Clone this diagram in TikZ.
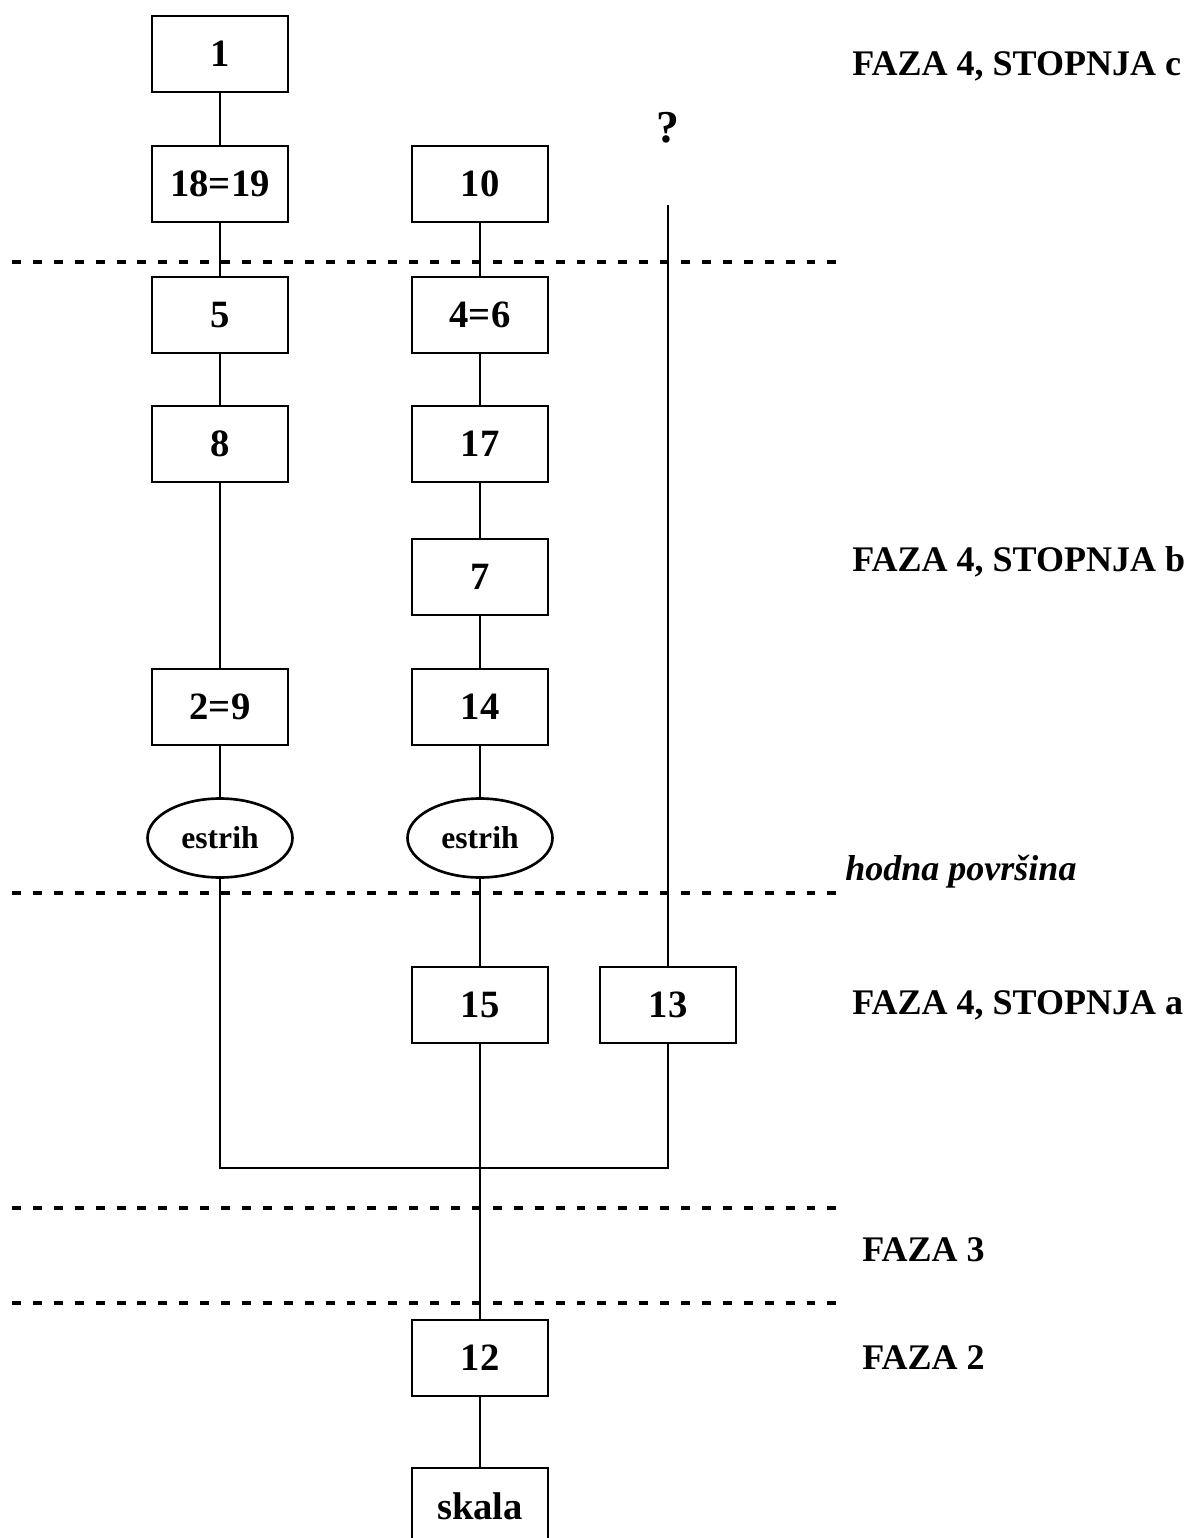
\documentclass[tikz,border=0pt]{standalone}
\usepackage{fontspec}
\setmainfont{Liberation Serif}
\usepackage{tikz}
\usetikzlibrary{shapes.geometric,calc}
\tikzset{
  every edge/.style={draw,line width=1.5pt},
}

\begin{document}
\begin{tikzpicture}[
  x=0.02cm,y=-0.02cm,
  unit/.style={rectangle,draw,line width=1.5pt,minimum width=2.72cm,minimum height=1.52cm,inner sep=0pt,font=\fontsize{22}{24}\selectfont\bfseries},
  floor/.style={ellipse,draw,line width=1.5pt,minimum width=2.9cm,minimum height=1.58cm,inner sep=0pt,font=\fontsize{18}{20}\selectfont\bfseries},
  phase/.style={anchor=west,inner sep=0pt,font=\fontsize{20.5}{22}\selectfont\bfseries},
  border/.style={line width=2.4pt,dash pattern=on 5.1pt off 6.8pt}
]
\useasboundingbox (0,0) rectangle (1194,1538);

\node[unit] (U1) at (220,54) {1};
\node[unit] (U1819) at (220,184) {18=19};
\node[unit] (U10) at (480,184) {10};
\node[inner sep=0pt,font=\fontsize{26}{28}\selectfont\bfseries] (Q) at (668,128) {?};
\coordinate (Qend) at (668,205);

\node[unit] (U5) at (220,315) {5};
\node[unit] (U46) at (480,315) {4=6};
\node[unit] (U8) at (220,444) {8};
\node[unit] (U17) at (480,444) {17};
\node[unit] (U7) at (480,577) {7};
\node[unit] (U29) at (220,707) {2=9};
\node[unit] (U14) at (480,707) {14};

\node[floor] (E1) at (220,838) {estrih};
\node[floor] (E2) at (480,838) {estrih};

\node[unit] (U15) at (480,1005) {15};
\node[unit] (U13) at (668,1005) {13};
\coordinate (J) at (480,1168);

\node[unit] (U12) at (480,1358) {12};
\node[unit] (Usk) at (480,1506) {skala};

% dashed boundaries
\draw[border] (12,262) -- (838,262);
\draw[border] (12,893) -- (838,893);
\draw[border] (12,1208) -- (838,1208);
\draw[border] (12,1303) -- (838,1303);

\node[phase] (Lc) at (852,66) {FAZA 4, STOPNJA c};
\node[phase] (Lb) at (852,562) {FAZA 4, STOPNJA b};
\node[font=\fontsize{20.5}{22}\selectfont\bfseries\itshape,anchor=west,inner sep=0pt] (Lh) at (845,872) {hodna površina};
\node[phase] (La) at (852,1005) {FAZA 4, STOPNJA a};
\node[phase] (L3) at (862,1250) {FAZA 3};
\node[phase] (L2) at (862,1358) {FAZA 2};

\path
(U1) edge (U1819)
(U1819) edge (U5)
(U5) edge (U8)
(U8) edge (U29)
(U29) edge (E1)

(U10) edge (U46)
(U46) edge (U17)
(U17) edge (U7)
(U7) edge (U14)
(U14) edge (E2)
(E2) edge (U15)
(U15) edge (U12)
(U12) edge (Usk)

(Qend) edge (U13);

\draw[line width=1.5pt] (E1) -- (E1 |- J) -- (U13 |- J) -- (U13);

\end{tikzpicture}
\end{document}
